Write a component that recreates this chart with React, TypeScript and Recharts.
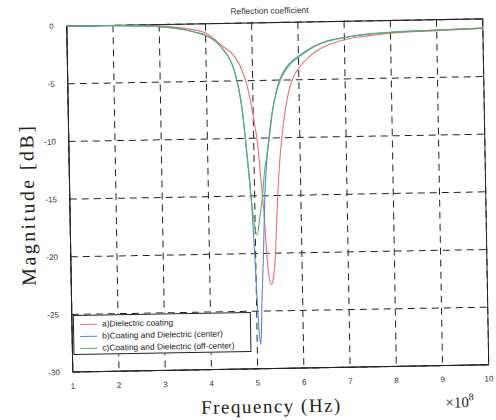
import React from "react";
import {
  LineChart,
  Line,
  XAxis,
  YAxis,
  CartesianGrid,
  ReferenceArea,
} from "recharts";

// Frequency in units of 1e8 Hz, magnitude in dB
const dielectricFreq = [1, 2, 3, 3.5, 4, 4.37, 4.58, 4.71, 4.78, 4.85, 4.92, 4.98, 5.03, 5.07, 5.12, 5.17, 5.21, 5.24, 5.28, 5.335, 5.38, 5.43, 5.47, 5.5, 5.55, 5.61, 5.7, 5.76, 5.82, 5.9, 6.0, 6.3, 6.6, 7.0, 7.5, 8.0, 9.0, 10.0];
const dielectricDb = [0, -0.02, -0.12, -0.35, -0.8, -2.0, -2.7, -3.5, -4.15, -5.0, -6.2, -7.6, -8.9, -10, -12.3, -15, -17.5, -20, -22, -22.7, -22, -20, -17, -15, -12.3, -10, -7.5, -6.3, -5.4, -4.6, -4.0, -2.8, -2.1, -1.6, -1.3, -1.1, -0.95, -0.82];

const centerFreq = [1, 1.5, 2, 2.5, 3, 3.5, 3.8, 4, 4.2, 4.4, 4.5, 4.6, 4.66, 4.72, 4.77, 4.82, 4.87, 4.93, 4.97, 5.01, 5.05, 5.08, 5.12, 5.17, 5.22, 5.27, 5.33, 5.42, 5.5, 5.58, 5.7, 5.85, 6.0, 6.3, 6.6, 7.0, 7.5, 8.0, 9.0, 10.0];
const centerDb = [0, -0.01, -0.03, -0.08, -0.18, -0.45, -0.75, -1.0, -1.5, -2.4, -3.0, -4.0, -5.0, -6.3, -7.8, -10, -12.3, -15.5, -19, -23.5, -27, -27.9, -24, -20, -15, -12.3, -10, -7.6, -6.1, -5.0, -4.1, -3.4, -2.95, -2.2, -1.7, -1.4, -1.15, -1.02, -0.9, -0.8];

const offCenterFreq = [1, 1.5, 2, 2.5, 3, 3.5, 3.8, 4, 4.2, 4.4, 4.5, 4.6, 4.66, 4.72, 4.77, 4.82, 4.87, 4.92, 4.97, 5.04, 5.1, 5.17, 5.22, 5.28, 5.34, 5.42, 5.5, 5.6, 5.7, 5.85, 6.0, 6.3, 6.6, 7.0, 7.5, 8.0, 9.0, 10.0];
const offCenterDb = [0, -0.01, -0.03, -0.08, -0.18, -0.45, -0.75, -1.0, -1.5, -2.4, -3.0, -4.0, -5.0, -6.2, -7.7, -10, -12.5, -15, -17, -18.4, -17, -15, -13, -11.5, -10, -7.6, -6.2, -5.0, -4.25, -3.5, -3.05, -2.25, -1.75, -1.42, -1.16, -1.03, -0.9, -0.8];

const xTicks = [1, 2, 3, 4, 5, 6, 7, 8, 9, 10];
const yTicks = [0, -5, -10, -15, -20, -25, -30];

const seriesNames = [
  "a)Dielectric coating",
  "b)Coating and Dielectric (center)",
  "c)Coating and Dielectric (off-center)",
];
const seriesColors = ["#f06a78", "#5088d8", "#52b45e"];

const toPoints = (f: number[], v: number[]) => f.map((x, i) => ({ f: x, db: v[i] }));

const seriesData = [
  toPoints(dielectricFreq, dielectricDb),
  toPoints(centerFreq, centerDb),
  toPoints(offCenterFreq, offCenterDb),
];

const sans = "Liberation Sans, Arial, sans-serif";
const serif = "Liberation Serif, 'Times New Roman', serif";
const tickStyle = { fontSize: 8, fill: "#333", fontFamily: sans };

const LegendBox = () => (
  <div
    style={{
      position: "absolute",
      left: 71,
      top: 312,
      background: "#fff",
      border: "1px solid #222",
      width: 178,
      height: 40,
      boxSizing: "border-box",
      padding: "2px 0 0 6px",
      fontFamily: sans,
      fontSize: 8.4,
      color: "#222",
    }}
  >
    {seriesNames.map((name, i) => (
      <div key={name} style={{ display: "flex", alignItems: "center", height: 12, whiteSpace: "nowrap" }}>
        <div style={{ width: 17, height: 1, background: seriesColors[i], marginRight: 5 }} />
        <span>{name}</span>
      </div>
    ))}
  </div>
);

export default function App() {
  return (
    <div
      style={{
        position: "absolute",
        left: 0,
        top: 0,
        width: 496,
        height: 420,
        background: "#fff",
        transform: "rotate(-1deg)",
        transformOrigin: "248px 210px",
      }}
    >
      <LineChart width={496} height={420} margin={{ top: 23, right: 10, bottom: 31, left: 30 }}>
        <CartesianGrid stroke="#222" strokeDasharray="7 5" strokeWidth={1} />
        <XAxis
          dataKey="f"
          type="number"
          domain={[1, 10]}
          ticks={xTicks}
          allowDuplicatedCategory={false}
          tick={tickStyle}
          tickLine={false}
          tickMargin={5}
          axisLine={{ stroke: "#222" }}
          height={20}
        />
        <YAxis
          dataKey="db"
          type="number"
          domain={[-30, 0]}
          ticks={yTicks}
          tick={tickStyle}
          tickLine={false}
          tickMargin={7}
          axisLine={{ stroke: "#222" }}
          width={40}
        />
        {/* solid box around the plotting area */}
        <ReferenceArea x1={1} x2={10} y1={-30} y2={0} fill="none" stroke="#222" strokeWidth={1} ifOverflow="visible" />
        {seriesData.map((d, i) => (
          <Line
            key={seriesNames[i]}
            data={d}
            dataKey="db"
            name={seriesNames[i]}
            type="monotone"
            stroke={seriesColors[i]}
            strokeWidth={1.1}
            dot={false}
            isAnimationActive={false}
          />
        ))}
      </LineChart>
      <LegendBox />
      <div style={{ position: "absolute", left: 173, top: 6, width: 200, textAlign: "center", fontSize: 8.5, fontFamily: sans, color: "#333" }}>
        Reflection coefficient
      </div>
      <div
        style={{
          position: "absolute",
          left: 28,
          top: 201,
          transform: "translate(-50%, -50%) rotate(-90deg)",
          whiteSpace: "nowrap",
          fontSize: 20,
          letterSpacing: 2.4,
          fontFamily: serif,
          color: "#222",
        }}
      >
        Magnitude [dB]
      </div>
      <div style={{ position: "absolute", left: 168, top: 396, width: 200, textAlign: "center", fontSize: 19, letterSpacing: 1.5, fontFamily: serif, color: "#222", whiteSpace: "nowrap" }}>
        Frequency (Hz)
      </div>
      <div style={{ position: "absolute", left: 442, top: 398, fontSize: 15, fontFamily: serif, color: "#222" }}>
        ×10<sup style={{ fontSize: 10, verticalAlign: "top", position: "relative", top: -3 }}>8</sup>
      </div>
    </div>
  );
}
